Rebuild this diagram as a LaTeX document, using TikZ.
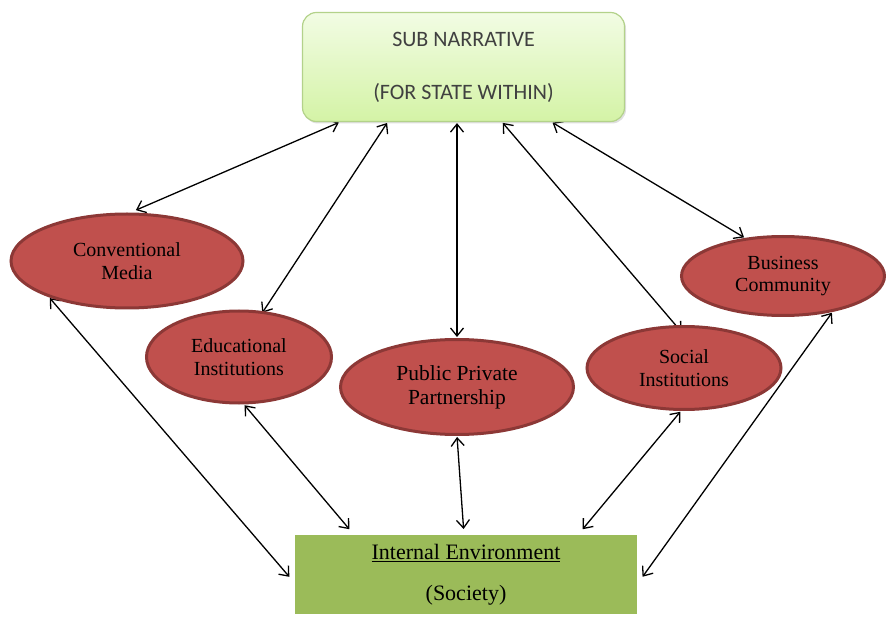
\documentclass[tikz,border=0pt]{standalone}
\usepackage{fontspec}
\setmainfont{Liberation Serif}
\newfontfamily\calibrifont{Carlito}
\usetikzlibrary{arrows.meta, shapes.geometric, shadows, backgrounds}

\definecolor{actorfill}{HTML}{C0504D}
\definecolor{actorline}{HTML}{8C3836}
\definecolor{envfill}{HTML}{9BBB59}
\definecolor{subtop}{HTML}{F2FCE4}
\definecolor{subbottom}{HTML}{D4F3A6}
\definecolor{subline}{HTML}{B3D28A}
\definecolor{subtext}{HTML}{404040}

\begin{document}
\begin{tikzpicture}[
   x=1pt, y=-1pt,
   >={Straight Barb[length=8pt,width=13pt]},
   link/.style={<->, line width=1.3pt, shorten <=1pt, shorten >=1pt},          % two-way connectors
   actor/.style={ellipse, draw=actorline, line width=3pt, fill=actorfill,
                 align=center, inner sep=0pt, font=\fontsize{20}{22.5}\selectfont},
   narrbox/.style={rectangle, rounded corners=14pt, draw=subline, line width=1.2pt,
                   top color=subtop, bottom color=subbottom, text=subtext,
                   minimum width=322pt, minimum height=109pt, align=center,
                   drop shadow={opacity=0.25, shadow xshift=1.5pt, shadow yshift=-2pt},
                   font=\calibrifont\fontsize{22}{26}\selectfont},
   envbox/.style={rectangle, draw=white, line width=5pt, fill=envfill,
                  minimum width=347pt, minimum height=84pt, align=center,
                  drop shadow={opacity=0.2, shadow xshift=0pt, shadow yshift=0pt, shadow scale=1.01},
                  font=\fontsize{22}{26}\selectfont}
]
\useasboundingbox (0,0) rectangle (886,617);

% --- top: the sub narrative
\node[narrbox] (subnarr) at (463.5,67) {SUB NARRATIVE\\[27pt](FOR STATE WITHIN)};

% --- bottom: the internal environment
\node[envbox] (intenv) at (466,574.5) {\underline{Internal Environment}\\[15pt](Society)};

% --- the five actors in between
\node[actor, minimum width=232pt, minimum height=94pt] (convmedia) at (127,261) {Conventional\\Media};
\node[actor, minimum width=185pt, minimum height=92pt] (eduinst) at (239,357) {Educational\\Institutions};
\node[actor, minimum width=233pt, minimum height=95pt, font=\fontsize{21.5}{24}\selectfont] (ppp) at (457,387) {Public Private\\Partnership};
\node[actor, minimum width=194pt, minimum height=83pt] (socinst) at (684,368) {Social\\Institutions};
\node[actor, minimum width=203pt, minimum height=79pt] (bizcomm) at (783,276) {Business\\Community};

\begin{scope}[on background layer]
% --- links up to the sub narrative
\draw[link, shorten <=6pt] (convmedia.86) -- (subnarr.204.5);
\draw[link, shorten <=-2pt] (eduinst.62) -- (subnarr.216.1);
\draw[link] (ppp.north) -- (ppp.north |- subnarr.south);
\draw[link, shorten <=-9pt] (socinst.101) -- (subnarr.305.7);   % tip hidden under the ellipse
\draw[link] (bizcomm.135) -- (subnarr.328.4);

% --- links down to the internal environment
\draw[link] (convmedia.205) -- (intenv.181);
\draw[link] (eduinst.276) -- (intenv.159);
\draw[link] (ppp.south) -- (intenv.93.9);
\draw[link] (socinst.266) -- (intenv.21.8);
\draw[link] (bizcomm.324) -- (intenv.359);
\end{scope}

\end{tikzpicture}
\end{document}
